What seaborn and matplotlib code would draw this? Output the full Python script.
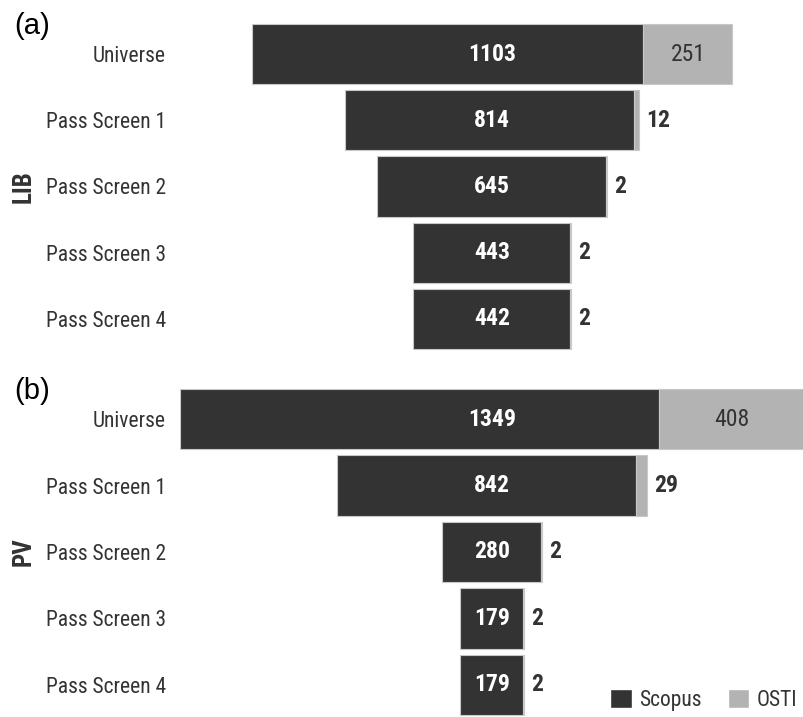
import matplotlib
matplotlib.use("Agg")
import matplotlib.pyplot as plt
from matplotlib import font_manager
from matplotlib.patches import Patch
import seaborn as sns
import pandas as pd

stages = ["Universe", "Pass Screen 1", "Pass Screen 2", "Pass Screen 3", "Pass Screen 4"]
lib_scopus = [1103, 814, 645, 443, 442]
lib_osti = [251, 12, 2, 2, 2]
pv_scopus = [1349, 842, 280, 179, 179]
pv_osti = [408, 29, 2, 2, 2]

SCOPUS_C = "#333333"
OSTI_C = "#b3b3b3"
TEXT_C = "#333333"

sns.set_theme(style="white")

available = {f.name for f in font_manager.fontManager.ttflist}
for cand in ["Liberation Sans Narrow", "Roboto Condensed", "Open Sans Condensed"]:
    if cand in available:
        NARROW = dict(family=cand)
        break
else:
    NARROW = dict(family="DejaVu Sans", stretch="condensed")

plt.rcParams["font.family"] = ["Liberation Sans", "DejaVu Sans"]

fig = plt.figure(figsize=(8.04, 7.17), dpi=100)
ax_a = fig.add_axes([180 / 804, 1 - 352 / 717, 624 / 804, 331 / 717])
ax_b = fig.add_axes([180 / 804, 1 - 718 / 717, 624 / 804, 332 / 717])

XMAX = 878.5


def funnel(ax, scopus, osti, side_label):
    df = pd.DataFrame({"stage": stages, "scopus": scopus, "osti": osti})
    df["total"] = df["scopus"] + df["osti"]
    df["left"] = -df["total"] / 2

    sns.barplot(data=df, x="scopus", y="stage", order=stages, color=SCOPUS_C,
                saturation=1, width=0.91, edgecolor="#c8c8c8", linewidth=0.8, ax=ax)
    n_s = len(ax.patches)
    sns.barplot(data=df, x="osti", y="stage", order=stages, color=OSTI_C,
                saturation=1, width=0.91, edgecolor="#c8c8c8", linewidth=0.8, ax=ax)
    sc_patches = ax.patches[:n_s]
    os_patches = ax.patches[n_s:]
    # shift each segment so the whole stage is centred on zero
    for i, (p, q) in enumerate(zip(sc_patches, os_patches)):
        p.set_x(df["left"][i])
        q.set_x(df["left"][i] + df["scopus"][i])

    for i, row in df.iterrows():
        ax.text(0, i, f"{row['scopus']}", color="white",
                fontsize=17, fontweight="bold", ha="center", va="center", **NARROW)
        right = row["left"] + row["total"]
        if row["osti"] > 100:
            ax.text(row["left"] + row["scopus"] + row["osti"] / 2, i, f"{row['osti']}",
                    color=TEXT_C, fontsize=17, ha="center", va="center", **NARROW)
        else:
            ax.text(right + 20, i, f"{row['osti']}", color=TEXT_C, fontsize=17,
                    fontweight="bold", ha="left", va="center", **NARROW)

    ax.set_xlim(-XMAX, XMAX)
    ax.set_ylim(4.5, -0.5)
    ax.set_xlabel("")
    ax.set_ylabel("")
    ax.set_xticks([])
    ax.tick_params(axis="y", length=0, pad=10)
    for lab in ax.get_yticklabels():
        lab.set_fontsize(15.5)
        lab.set_color(TEXT_C)
        lab.set_fontfamily(NARROW["family"])
        if "stretch" in NARROW:
            lab.set_fontstretch(NARROW["stretch"])
    sns.despine(ax=ax, left=True, bottom=True)
    ax.text(-156 / 624, 0.5, side_label, transform=ax.transAxes, rotation=90,
            fontsize=18, fontweight="bold", color=TEXT_C, ha="center", va="center", **NARROW)


funnel(ax_a, lib_scopus, lib_osti, "LIB")
funnel(ax_b, pv_scopus, pv_osti, "PV")

fig.text(14 / 804, 1 - 26 / 717, "(a)", fontsize=21, color="black", ha="left", va="center")
fig.text(14 / 804, 1 - 391 / 717, "(b)", fontsize=21, color="black", ha="left", va="center")

handles = [Patch(facecolor=SCOPUS_C, label="Scopus"), Patch(facecolor=OSTI_C, label="OSTI")]
leg = fig.legend(handles=handles, loc="lower right", bbox_to_anchor=(1.0, 0.0), ncol=2,
                 frameon=False, handlelength=1.0, handleheight=1.0, handletextpad=0.35,
                 columnspacing=1.2, borderaxespad=0.1, borderpad=0.2,
                 prop=font_manager.FontProperties(size=15.5, **NARROW))
for t in leg.get_texts():
    t.set_color(TEXT_C)

fig.savefig("out.png", dpi=100)
